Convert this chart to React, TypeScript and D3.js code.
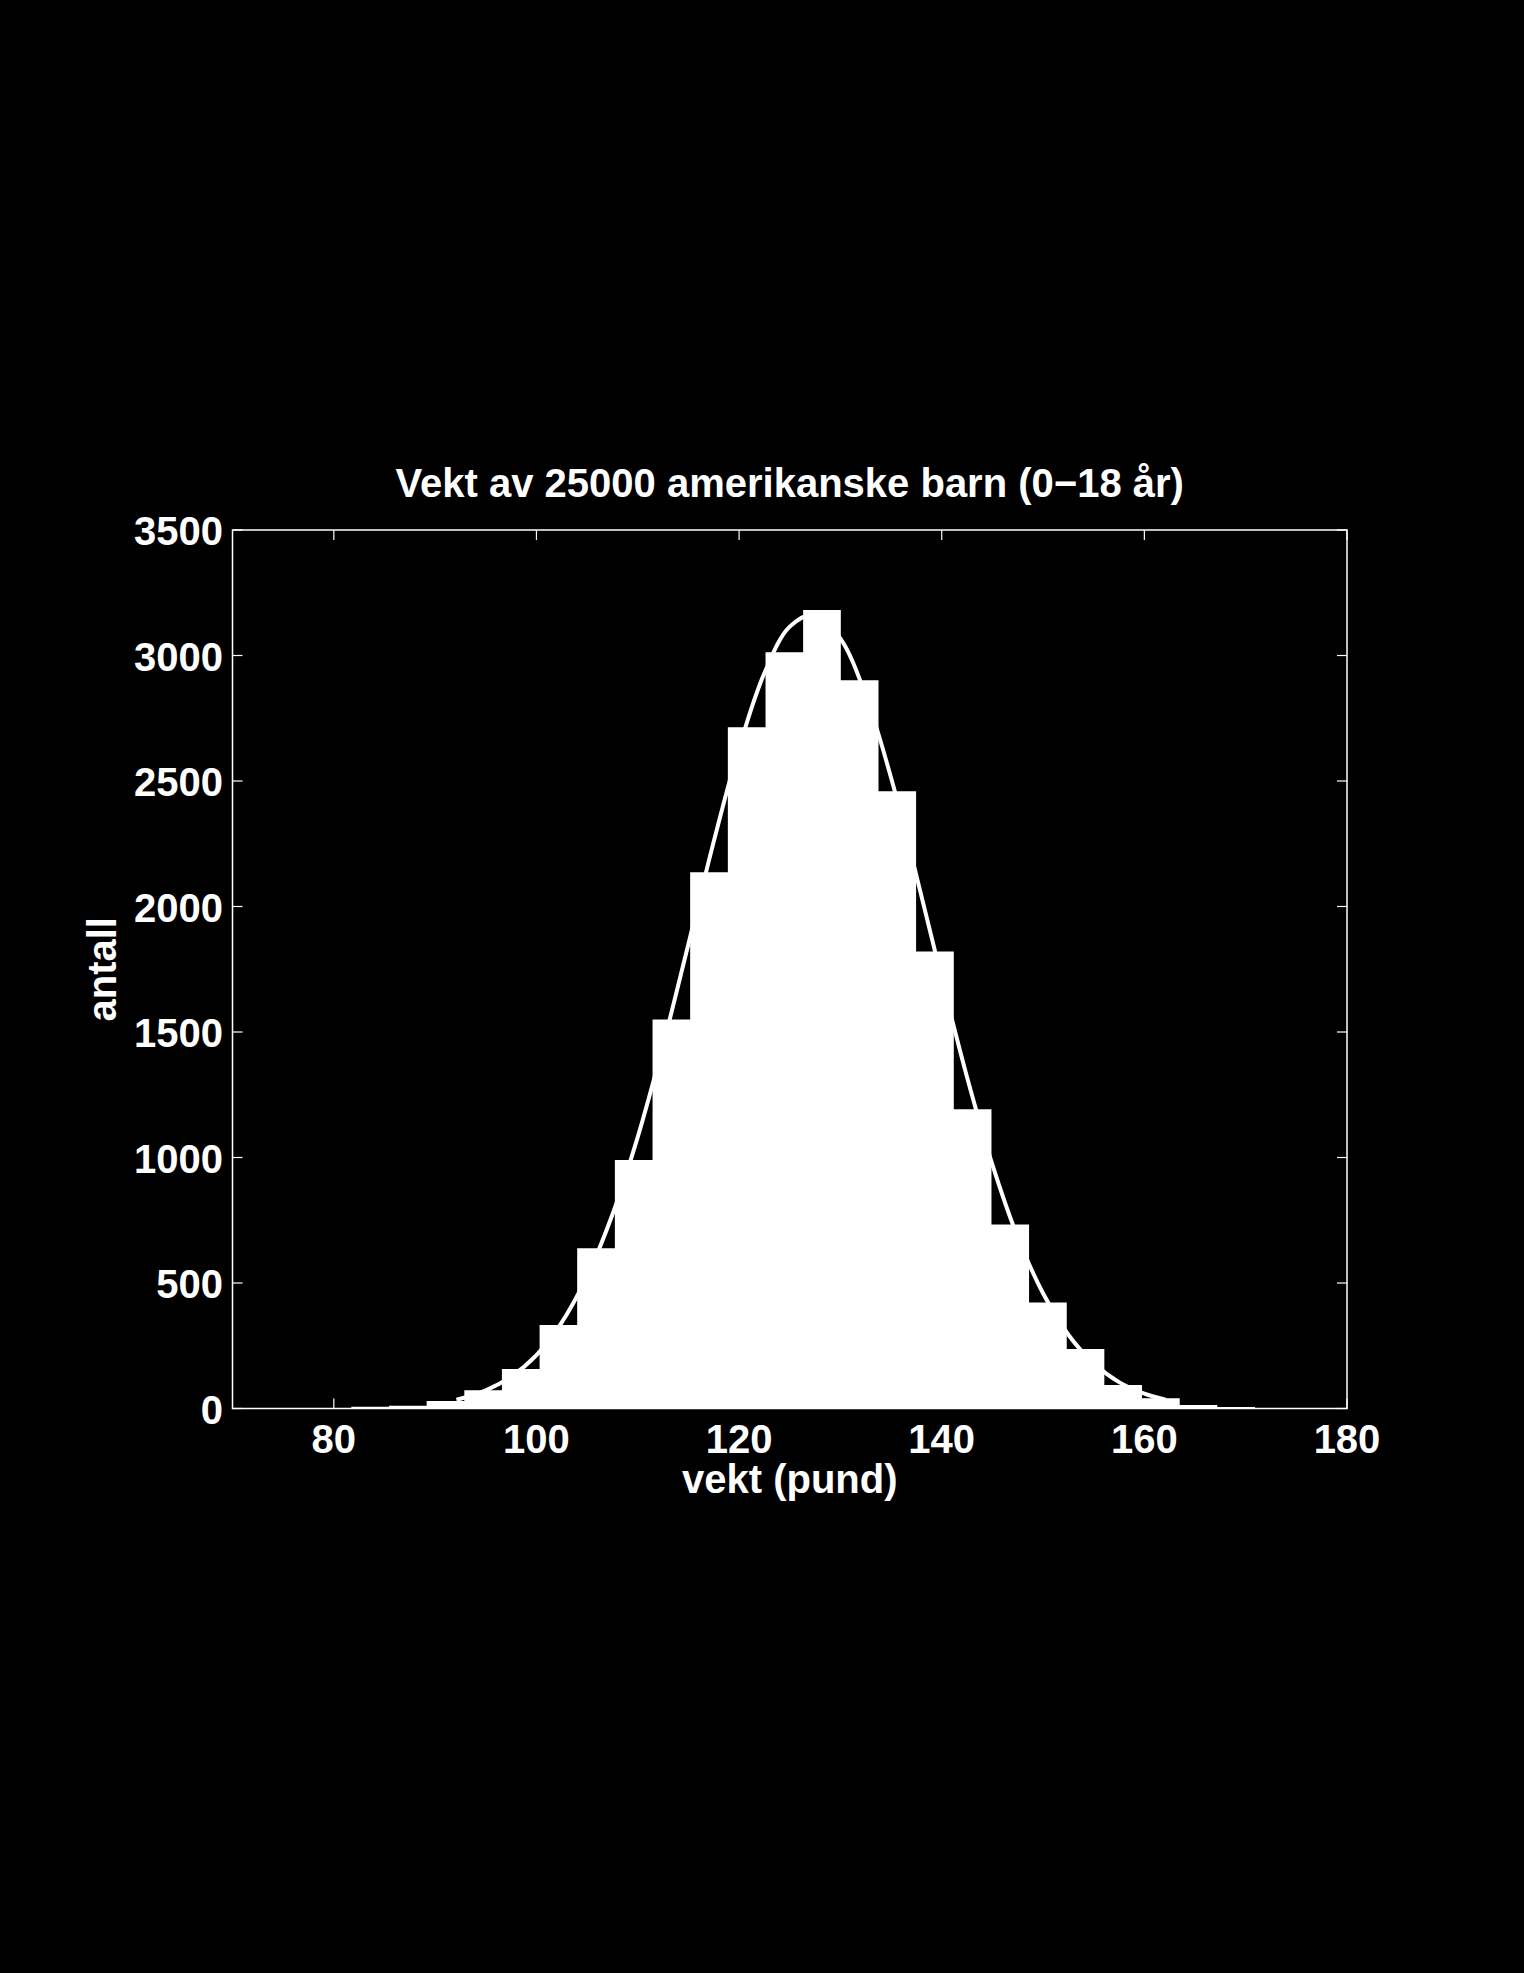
import React, { useEffect } from "react";
import * as d3 from "d3";

// ---- data ----
const binEdges = [
  78.01, 81.73, 85.44, 89.16, 92.88, 96.59, 100.31, 104.02, 107.74, 111.46,
  115.17, 118.89, 122.61, 126.32, 130.04, 133.76, 137.47, 141.19, 144.91,
  148.62, 152.34, 156.05, 159.77, 163.49, 167.2, 170.92,
];
const binCounts = [
  2, 7, 11, 30, 73, 157, 333, 638, 990, 1550, 2136, 2714, 3013, 3181, 2901,
  2459, 1821, 1192, 733, 422, 237, 94, 41, 14, 6,
];
// fitted curve
const curveX = [
  92.1, 92.5, 95, 97.5, 100, 102.5, 105, 107.5, 110, 112.5, 115, 117.5, 120,
  122.5, 125, 127.5, 130, 132.5, 135, 137.5, 140, 142.5, 145, 147.5, 150,
  152.5, 155, 157.5, 160, 162.1,
];
const curveY = [
  35, 39, 72, 127, 213, 343, 527, 773, 1082, 1448, 1851, 2259, 2632, 2930,
  3115, 3163, 3067, 2841, 2513, 2123, 1713, 1320, 972, 683, 459, 294, 180,
  105, 59, 35,
];
const xTicks = [80, 100, 120, 140, 160, 180];
const yTicks = [0, 500, 1000, 1500, 2000, 2500, 3000, 3500];
const title = "Vekt av 25000 amerikanske barn (0\u221218 år)";
const xLabel = "vekt (pund)";
const yLabel = "antall";

const W = 1524;
const H = 1973;
const L = 232.5;
const R = 1347;
const T = 530;
const B = 1408.5;
const FONT = "'Liberation Sans', Arial, Helvetica, sans-serif";
const FS = 40;

export default function App() {
  useEffect(() => {
    document.body.style.margin = "0";
    document.body.style.background = "#000";
  }, []);

  const x = d3.scaleLinear().domain([70, 180]).range([L, R]);
  const y = d3.scaleLinear().domain([0, 3500]).range([B, T]);

  const line = d3
    .line<number>()
    .x((_, i) => x(curveX[i]))
    .y((d) => y(d))
    .curve(d3.curveCatmullRom);

  // histogram outline as one closed path (no seams between bars)
  const p = d3.path();
  p.moveTo(x(binEdges[0]), B);
  binCounts.forEach((c, i) => {
    p.lineTo(x(binEdges[i]), y(c));
    p.lineTo(x(binEdges[i + 1]), y(c));
  });
  p.lineTo(x(binEdges[binEdges.length - 1]), B);
  p.closePath();

  const tickLen = 10;

  return (
    <svg
      width={W}
      height={H}
      style={{ position: "absolute", left: 0, top: 0, display: "block" }}
    >
      <rect x={0} y={0} width={W} height={H} fill="#000" />
      <path d={p.toString()} fill="#fff" stroke="none" />
      <path
        d={line(curveY) || ""}
        fill="none"
        stroke="#fff"
        strokeWidth={4}
        strokeLinejoin="round"
      />
      {/* axes box */}
      <rect
        x={L}
        y={T}
        width={R - L}
        height={B - T}
        fill="none"
        stroke="#fff"
        strokeWidth={1.5}
      />
      {xTicks.map((t) => (
        <g key={"x" + t}>
          <line x1={x(t)} x2={x(t)} y1={B} y2={B - tickLen} stroke="#fff" strokeWidth={1.2} />
          <line x1={x(t)} x2={x(t)} y1={T} y2={T + tickLen} stroke="#fff" strokeWidth={1.2} />
          <text
            x={x(t)}
            y={1453}
            fill="#fff"
            fontFamily={FONT}
            fontWeight="bold"
            fontSize={FS}
            textAnchor="middle"
          >
            {t}
          </text>
        </g>
      ))}
      {yTicks.map((t) => (
        <g key={"y" + t}>
          <line x1={L} x2={L + tickLen} y1={y(t)} y2={y(t)} stroke="#fff" strokeWidth={1.2} />
          <line x1={R} x2={R - tickLen} y1={y(t)} y2={y(t)} stroke="#fff" strokeWidth={1.2} />
          <text
            x={223}
            y={y(t) + 15}
            fill="#fff"
            fontFamily={FONT}
            fontWeight="bold"
            fontSize={FS}
            textAnchor="end"
          >
            {t}
          </text>
        </g>
      ))}
      <text
        x={(L + R) / 2}
        y={497}
        fill="#fff"
        fontFamily={FONT}
        fontWeight="bold"
        fontSize={FS}
        textAnchor="middle"
      >
        {title}
      </text>
      <text
        x={(L + R) / 2}
        y={1493}
        fill="#fff"
        fontFamily={FONT}
        fontWeight="bold"
        fontSize={FS}
        textAnchor="middle"
      >
        {xLabel}
      </text>
      <text
        transform={`translate(116, ${(T + B) / 2}) rotate(-90)`}
        fill="#fff"
        fontFamily={FONT}
        fontWeight="bold"
        fontSize={FS}
        textAnchor="middle"
      >
        {yLabel}
      </text>
    </svg>
  );
}
